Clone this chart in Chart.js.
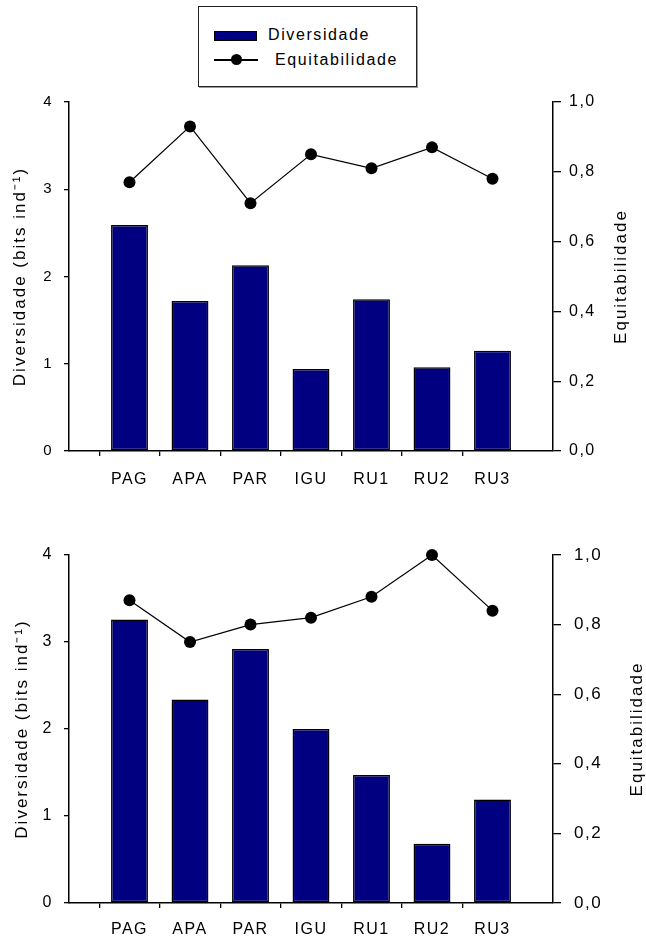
<!DOCTYPE html>
<html>
<head>
<meta charset="utf-8">
<script src="https://cdn.jsdelivr.net/npm/chart.js@4/dist/chart.umd.min.js"></script>
<style>
  body { margin: 0; background: #fff; width: 646px; height: 941px; position: relative; overflow: hidden;
         font-family: "Liberation Sans", Arial, sans-serif; color: #000; }
  canvas { position: absolute; left: 0; }
  #chart-top { top: 82px; }
  #chart-bottom { top: 530px; }
  #legend { position: absolute; left: 198px; top: 6px; width: 217px; height: 79px;
            border: 1.5px solid #222; box-shadow: 1px 1px 0 #999; background: #fff; }
  .sw-bar { position: absolute; left: 15px; top: 24px; width: 41px; height: 8px;
            background: #000080; border: 1.5px solid #000; }
  .sw-line { position: absolute; left: 15px; top: 52px; width: 44px; height: 1.5px; background: #000; }
  .sw-dot { position: absolute; left: 32px; top: 47px; width: 11px; height: 11px; border-radius: 50%; background: #000; }
  .lg-text { position: absolute; font-size: 16px; letter-spacing: 1.6px; line-height: 18px; white-space: nowrap; }
</style>
</head>
<body>
<div id="legend">
  <div class="sw-bar"></div>
  <div class="lg-text" style="left:69px; top:19px;">Diversidade</div>
  <div class="sw-line"></div>
  <div class="sw-dot"></div>
  <div class="lg-text" style="left:76px; top:44px;">Equitabilidade</div>
</div>
<canvas id="chart-top" width="646" height="418"></canvas>
<canvas id="chart-bottom" width="646" height="411"></canvas>
<script>
// --- Datos ---
const categories = ['PAG', 'APA', 'PAR', 'IGU', 'RU1', 'RU2', 'RU3'];
const diversidadeTop = [2.59, 1.72, 2.13, 0.94, 1.74, 0.96, 1.15];
const equitabilidadeTop = [0.77, 0.93, 0.71, 0.85, 0.81, 0.87, 0.78];
const diversidadeBottom = [3.26, 2.34, 2.92, 2.00, 1.47, 0.68, 1.19];
const equitabilidadeBottom = [0.87, 0.75, 0.80, 0.82, 0.88, 1.00, 0.84];
const leftTicks = ['0', '1', '2', '3', '4'];
const rightTicks = ['0,0', '0,2', '0,4', '0,6', '0,8', '1,0'];
const leftTitle = 'Diversidade (bits ind\u207B\u00B9)';
const rightTitle = 'Equitabilidade';

const FONT = '"Liberation Sans", Arial, sans-serif';
const NAVY = '#000080';

// the x axis runs one step past each end, so pad with empty slots
const padLabels = ['', ...categories, ''];
const pad = (arr) => [null, ...arr, null];

// canvas letter spacing (the original text is spaced out)
const spacing = {
    id: 'spacing',
    beforeUpdate(chart) { chart.ctx.letterSpacing = '1.5px'; },
    beforeDraw(chart) { chart.ctx.letterSpacing = '1.5px'; }
};

// both axis titles read bottom to top
const axisTitles = {
    id: 'axisTitles',
    afterDraw(chart, args, opts) {
        const { ctx, chartArea } = chart;
        const cy = (chartArea.top + chartArea.bottom) / 2;
        ctx.save();
        ctx.font = opts.size + 'px ' + FONT;
        ctx.letterSpacing = '2px';
        ctx.fillStyle = '#000';
        ctx.textAlign = 'center';
        ctx.textBaseline = 'middle';
        [[leftTitle, opts.leftX], [rightTitle, opts.rightX]].forEach(([text, x]) => {
            ctx.save();
            ctx.translate(x, cy);
            ctx.rotate(-Math.PI / 2);
            ctx.fillText(text, 0, 0);
            ctx.restore();
        });
        ctx.restore();
    }
};

const makeChart = (id, bars, points, cfg) => {
    const tickGrid = (len) => ({
        display: true,
        drawOnChartArea: false,
        drawTicks: true,
        tickLength: len,
        tickColor: '#000',
        lineWidth: 1.3
    });
    return new Chart(document.getElementById(id), {
        type: 'bar',
        data: {
            labels: padLabels,
            datasets: [
                {
                    type: 'line',
                    label: 'Equitabilidade',
                    data: pad(points),
                    yAxisID: 'y1',
                    borderColor: '#000',
                    borderWidth: 1.2,
                    pointBackgroundColor: '#000',
                    pointBorderColor: '#000',
                    pointRadius: 6,
                    pointBorderWidth: 0,
                    spanGaps: false,
                    clip: false,
                    order: 0
                },
                {
                    type: 'bar',
                    label: 'Diversidade',
                    data: pad(bars),
                    yAxisID: 'y',
                    backgroundColor: NAVY,
                    borderColor: '#000',
                    borderWidth: 1.5,
                    borderSkipped: false,
                    categoryPercentage: 1.0,
                    barPercentage: 0.61,
                    order: 1
                }
            ]
        },
        options: {
            responsive: false,
            animation: false,
            layout: { padding: { top: cfg.padTop, left: 0, right: 0, bottom: 0 } },
            plugins: {
                legend: { display: false },
                tooltip: { enabled: false },
                axisTitles: { size: 17, leftX: cfg.leftTitleX, rightX: cfg.rightTitleX }
            },
            scales: {
                x: {
                    type: 'category',
                    offset: false,
                    grid: {
                        ...tickGrid(5),
                        tickColor: (ctx) => (ctx.index === 0 || ctx.index === padLabels.length - 1) ? 'rgba(0,0,0,0)' : '#000'
                    },
                    border: { display: true, color: '#000', width: 1.5 },
                    ticks: {
                        autoSkip: false, maxRotation: 0, color: '#000', padding: cfg.xPad,
                        font: { family: FONT, size: 16 }
                    },
                    afterFit: (scale) => { scale.height = cfg.xHeight; }
                },
                y: {
                    position: 'left',
                    min: 0, max: 4,
                    grid: tickGrid(5),
                    border: { display: true, color: '#000', width: 1.5 },
                    ticks: {
                        stepSize: 1, color: '#000', padding: 11,
                        font: { family: FONT, size: cfg.leftSize },
                        callback: (v, i) => leftTicks[i]
                    },
                    afterFit: (scale) => { scale.width = 69; }
                },
                y1: {
                    position: 'right',
                    min: 0, max: 1,
                    grid: tickGrid(8),
                    border: { display: true, color: '#000', width: 1.5 },
                    ticks: {
                        stepSize: 0.2, color: '#000', padding: cfg.rightPad,
                        font: { family: FONT, size: cfg.rightSize },
                        callback: (v, i) => rightTicks[i]
                    },
                    afterFit: (scale) => { scale.width = 93; }
                }
            }
        },
        plugins: [spacing, axisTitles]
    });
};

makeChart('chart-top', diversidadeTop, equitabilidadeTop, {
    padTop: 4, xHeight: 49, xPad: 14, leftSize: 15, rightSize: 16, rightPad: 8,
    leftTitleX: 20, rightTitleX: 621
});
makeChart('chart-bottom', diversidadeBottom, equitabilidadeBottom, {
    padTop: 25, xHeight: 38, xPad: 12, leftSize: 16, rightSize: 17, rightPad: 13,
    leftTitleX: 22, rightTitleX: 637
});
</script>
</body>
</html>
